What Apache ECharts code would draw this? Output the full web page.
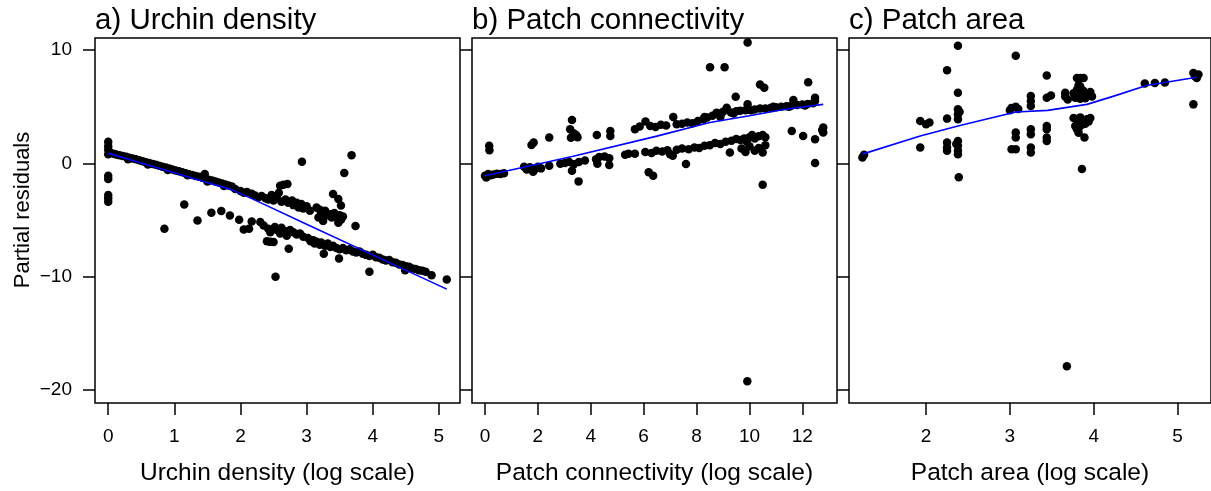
<!DOCTYPE html>
<html><head><meta charset="utf-8">
<script src="https://cdn.jsdelivr.net/npm/echarts@6/dist/echarts.min.js"></script>
<style>html,body{margin:0;padding:0;background:#fff}#c{width:1211px;height:491px}</style>
</head><body><div id="c"></div>
<script>
// ---------- data ----------
const yTicks = [-20, -10, 0, 10];
const xTicksA = [0, 1, 2, 3, 4, 5];
const xTicksB = [0, 2, 4, 6, 8, 10, 12];
const xTicksC = [2, 3, 4, 5];
const panelTitles = ['a) Urchin density', 'b) Patch connectivity', 'c) Patch area'];
const xTitles = ['Urchin density (log scale)', 'Patch connectivity (log scale)', 'Patch area (log scale)'];
const yTitle = 'Partial residuals';

const urchinPts = [
  [0,1.9],[0,1.5],[0,1.2],[0.02,1.0],[0,0.8],[0,-1.1],[0,-1.4],[0,-2.8],[0,-3.1],[0,-3.4],
  [0.08,0.85],[0.12,0.78],[0.17,0.72],[0.22,0.65],[0.27,0.58],[0.32,0.5],[0.37,0.42],[0.42,0.35],[0.47,0.26],[0.52,0.18],
  [0.57,0.1],[0.62,0.02],[0.67,-0.06],[0.72,-0.14],[0.77,-0.22],[0.82,-0.3],[0.87,-0.38],[0.92,-0.46],[0.97,-0.55],[1.02,-0.63],
  [1.07,-0.71],[1.12,-0.8],[1.17,-0.88],[1.22,-0.96],[1.27,-1.04],[1.32,-1.12],[1.37,-1.2],[1.42,-1.28],[1.46,-0.95],[1.47,-1.36],
  [1.52,-1.45],[1.57,-1.53],[1.62,-1.62],[1.67,-1.7],[1.72,-1.78],[1.77,-1.87],[1.82,-1.96],[1.87,-2.05],
  [0.3,0.35],[0.6,-0.1],[0.9,-0.6],[1.2,-1.05],[1.5,-1.6],[1.75,-2.0],
  [1.92,-2.27],[2.0,-2.45],[2.05,-2.6],[2.1,-2.55],[2.17,-2.7],[2.22,-2.85],[2.27,-3.0],[2.32,-2.9],[2.38,-3.1],[2.42,-3.2],
  [2.47,-2.8],[2.5,-3.3],[2.55,-3.0],[2.58,-2.6],[2.6,-1.98],[2.65,-1.9],[2.71,-1.83],[2.62,-3.4],[2.68,-3.2],[2.72,-3.5],
  [2.78,-3.3],[2.8,-3.7],[2.85,-3.5],[2.88,-3.9],[2.92,-3.6],[2.95,-4.0],[3.0,-3.8],[3.05,-4.2],[2.93,0.13],[3.15,-3.9],
  [3.2,-4.1],[3.22,-4.4],[3.28,-4.2],[3.3,-4.6],[3.35,-4.5],[3.38,-4.8],[3.42,-4.4],[3.45,-4.7],[3.5,-4.6],[3.52,-5.0],
  [3.55,-4.7],[3.48,-5.26],[3.74,-5.55],[3.4,-2.71],[3.48,-3.15],[3.52,-3.74],[3.57,-0.86],[3.68,0.72],[3.25,-5.1],[3.18,-4.8],
  [1.15,-3.65],[0.85,-5.79],[1.35,-5.06],[1.56,-4.38],[1.71,-4.23],[1.84,-4.61],[1.98,-5.0],[2.05,-5.85],[2.13,-5.79],[2.17,-5.14],
  [2.3,-5.2],[2.35,-5.5],[2.42,-5.79],[2.45,-6.1],[2.4,-6.9],[2.45,-6.95],[2.52,-5.64],[2.55,-5.9],[2.6,-6.2],[2.62,-5.7],
  [2.68,-6.0],[2.7,-6.4],[2.75,-5.9],[2.8,-6.1],[2.85,-6.3],[2.9,-6.2],[2.95,-6.5],[2.5,-6.96],[2.73,-7.55],[2.53,-10.04],
  [3.02,-6.6],[3.06,-6.9],[3.1,-6.8],[3.12,-7.1],[3.15,-6.95],[3.2,-7.2],[3.22,-7.0],[3.26,-7.99],[3.28,-7.3],[3.32,-7.1],
  [3.36,-7.4],[3.4,-7.3],[3.45,-7.5],[3.49,-8.43],[3.5,-7.6],[3.55,-7.5],[3.6,-7.7],[3.65,-7.6],[3.7,-7.8],[3.75,-7.9],
  [3.8,-7.8],[3.85,-8.0],[3.9,-8.1],[3.95,-9.6],[3.95,-8.2],[4.0,-8.1],[4.05,-8.3],[4.1,-8.35],[4.15,-8.5],[4.2,-8.6],
  [4.25,-8.55],[4.3,-8.75],[4.35,-8.8],[4.4,-8.95],[4.45,-9.0],[4.49,-9.45],[4.5,-9.1],[4.55,-9.15],[4.6,-9.3],[4.65,-9.35],
  [4.7,-9.45],[4.75,-9.5],[4.8,-9.6],[4.89,-9.9],[5.12,-10.27]
];
const urchinFit = [[0,0.9],[0.5,0.03],[1,-0.83],[1.5,-1.69],[1.87,-2.33],[2.27,-3.39],[3,-5.4],[4,-8.1],[5.12,-11.13]];

const connPts = [
  [0,-1.1],[0.05,-1.25],[0.12,-0.95],[0.22,-1.05],[0.32,-1.0],[0.45,-0.92],[0.58,-0.95],[0.72,-0.88],[0.16,1.54],[0.17,1.15],
  [1.48,-0.3],[1.58,-0.55],[1.7,-0.35],[1.82,-0.75],[1.9,-0.5],[2.0,-0.3],[2.12,-0.45],[1.84,1.84],[1.76,1.62],[2.43,2.28],[2.43,-0.22],
  [2.85,-0.05],[3.02,0.02],[3.18,0.12],[3.36,-0.08],[3.55,0.12],[3.78,0.25],[3.29,-0.66],[3.54,-1.6],
  [4.2,0.35],[4.32,0.55],[4.52,0.6],[4.7,0.45],[4.7,-0.15],[4.25,-0.05],[5.3,0.75],[5.43,0.85],[5.67,0.85],
  [6.06,1.0],[6.3,0.92],[6.48,1.1],[6.7,1.05],[6.9,1.15],[6.36,-1.1],[6.19,-0.8],[7.0,0.8],[7.1,0.66],[7.25,1.2],[7.45,1.3],[7.6,-0.07],
  [7.7,1.25],[7.92,1.4],[8.1,1.35],[8.3,1.55],[8.5,1.6],[8.7,1.8],[8.9,1.7],[9.1,1.9],[9.26,0.96],[9.32,2.0],[9.5,2.15],[9.66,2.05],
  [9.8,2.2],[9.9,1.9],[10.0,2.3],[10.1,2.5],[10.2,2.2],[10.35,2.4],[10.5,2.5],[10.6,2.3],[9.7,1.3],[9.85,1.0],[10.0,1.5],[10.2,1.1],
  [10.35,1.35],[10.5,0.95],[10.6,1.6],[10.5,-1.89],[9.92,-19.27],
  [11.6,2.86],[12.03,2.42],[12.48,2.13],[12.48,0.02],[12.79,3.16],[12.79,2.72],[12.75,2.95],
  [3.29,3.83],[3.22,3.0],[3.35,2.65],[3.25,2.25],[3.5,2.3],[3.45,2.5],[4.23,2.51],[4.74,2.86],[4.74,2.42],
  [5.67,3.0],[5.85,3.25],[6.07,3.7],[6.25,3.3],[6.45,3.2],[6.65,3.4],[6.85,3.35],[7.12,4.09],[7.25,3.45],[7.45,3.5],[7.65,3.6],
  [7.85,3.55],[8.05,3.75],[8.26,3.89],[8.4,4.05],[8.51,8.49],[9.06,8.49],[8.6,4.2],[8.76,4.48],[8.9,4.3],[9.0,4.55],[9.14,4.92],
  [9.3,4.5],[9.48,5.88],[9.5,4.6],[9.65,4.65],[9.93,10.69],[9.93,5.21],[9.85,4.7],[10.05,4.7],[10.2,4.75],[10.4,6.97],[10.56,6.67],
  [10.4,4.85],[10.6,4.85],[10.8,4.9],[11.0,4.95],[11.2,5.0],[11.4,5.05],[11.66,5.59],[11.6,5.1],[11.8,5.15],[12.0,5.2],[12.22,7.17],
  [12.2,5.25],[12.4,5.3],[12.48,5.8],[12.48,5.5],[8.3,4.1],[8.9,4.1],[9.4,4.4],[10.9,5.0],[11.5,5.0],[12.1,5.1]
];
const connFit = [[0,-1.1],[3.3,0.6],[6.5,2.4],[8.5,3.6],[10,4.2],[11.3,4.75],[12.79,5.21]];

const areaPts = [
  [1.24,0.52],[1.26,0.75],
  [1.93,3.74],[2.0,3.45],[2.04,3.6],[1.93,1.4],
  [2.25,3.95],[2.25,8.22],[2.25,1.84],[2.25,1.4],[2.25,1.1],
  [2.38,10.4],[2.38,6.23],[2.38,4.77],[2.38,4.33],[2.38,3.89],[2.38,1.98],[2.38,1.54],[2.38,1.1],[2.38,0.8],[2.39,-1.24],[2.36,1.7],[2.4,4.55],
  [3.0,4.7],[3.02,4.9],[3.07,5.0],[3.1,4.8],[3.07,9.52],[3.07,2.72],[3.07,2.28],[3.02,1.25],[3.07,1.25],
  [3.25,5.94],[3.25,5.5],[3.25,5.06],[3.25,3.0],[3.25,2.57],[3.25,1.4],[3.25,0.96],
  [3.44,5.8],[3.49,5.99],[3.44,7.76],[3.44,3.0],[3.44,2.28],[3.44,1.98],[3.44,3.3],
  [3.66,6.23],[3.69,5.65],[3.66,5.9],
  [3.80,7.55],[3.84,7.55],[3.88,7.55],
  [3.76,6.2],[3.8,6.5],[3.84,6.8],[3.88,6.4],[3.92,6.1],[3.96,6.3],[3.98,5.9],[3.78,5.8],[3.84,5.7],[3.9,5.75],[3.86,6.0],[3.82,6.9],
  [3.76,4.0],[3.8,3.8],[3.84,4.06],[3.88,3.6],[3.92,3.9],[3.96,4.0],[3.78,3.3],[3.82,3.1],[3.86,3.4],[3.9,3.5],[3.94,3.7],[3.8,3.0],[3.85,3.6],
  [3.82,2.7],[3.89,2.28],[3.86,-0.51],[3.68,-17.95],
  [4.61,7.05],[4.73,7.1],[4.85,7.14],
  [5.19,7.99],[5.23,7.55],[5.21,7.7],[5.25,7.85],[5.19,5.21]
];
const areaFit = [[1.24,0.81],[1.93,2.42],[2.38,3.3],[3.07,4.53],[3.45,4.68],[3.92,5.21],[4.24,5.94],[4.63,6.88],[5.23,7.61]];

// ---------- layout ----------
const FONT = '"Liberation Sans", Arial, Helvetica, sans-serif';
const Y_MIN = -21.2, Y_MAX = 11.08;
const panels = [
  {left: 95,  xmin: -0.2,  xmax: 5.32,  ticks: xTicksA, pts: urchinPts, fit: urchinFit},
  {left: 472, xmin: -0.49, xmax: 13.31, ticks: xTicksB, pts: connPts,   fit: connFit},
  {left: 849, xmin: 1.08,  xmax: 5.40,  ticks: xTicksC, pts: areaPts,   fit: areaFit}
];
const TOP = 38, W = 365, H = 367;
const minus = v => String(v).replace('-', '\u2212');

const grid = [], xAxis = [], yAxis = [], series = [], graphic = [];
panels.forEach((p, i) => {
  grid.push({left: p.left, top: TOP, width: W, height: H, show: true,
    borderColor: '#000', borderWidth: 1.5, backgroundColor: 'transparent', containLabel: false});
  xAxis.push({type: 'value', gridIndex: i, min: p.xmin, max: p.xmax, position: 'bottom',
    splitLine: {show: false}, axisLine: {show: false, onZero: false},
    axisTick: {show: true, inside: false, length: 12, customValues: p.ticks, lineStyle: {color: '#000', width: 1.5}},
    axisLabel: {show: true, customValues: p.ticks, margin: 24, color: '#000', fontSize: 19, fontFamily: FONT, formatter: minus},
    name: xTitles[i], nameLocation: 'middle', nameGap: 58,
    nameTextStyle: {color: '#000', fontSize: 24.5, fontFamily: FONT}
  });
  yAxis.push({type: 'value', gridIndex: i, min: Y_MIN, max: Y_MAX, position: 'left',
    splitLine: {show: false}, axisLine: {show: false, onZero: false},
    axisTick: {show: true, inside: false, length: 12, customValues: yTicks, lineStyle: {color: '#000', width: 1.5}},
    axisLabel: {show: i === 0, customValues: yTicks, margin: 23, color: '#000', fontSize: 19, fontFamily: FONT, formatter: minus}
  });
  series.push({type: 'scatter', xAxisIndex: i, yAxisIndex: i, data: p.pts, symbol: 'circle', symbolSize: 8.5,
    itemStyle: {color: '#000', opacity: 1}, silent: true, z: 2});
  series.push({type: 'line', xAxisIndex: i, yAxisIndex: i, data: p.fit, showSymbol: false, symbol: 'none',
    lineStyle: {color: '#0000ff', width: 1.6}, silent: true, z: 3});
  graphic.push({type: 'text', left: p.left, top: 6, z: 10,
    style: {text: panelTitles[i], fill: '#000', fontSize: 29.5, fontFamily: FONT}});
});
graphic.push({type: 'text', x: 23, y: 210, rotation: Math.PI / 2, z: 10,
  style: {text: yTitle, fill: '#000', fontSize: 22, fontFamily: FONT, align: 'center', verticalAlign: 'middle'}});

const chart = echarts.init(document.getElementById('c'), null, {renderer: 'canvas'});
chart.setOption({animation: false, backgroundColor: '#fff', grid, xAxis, yAxis, series, graphic});
</script>
</body></html>
